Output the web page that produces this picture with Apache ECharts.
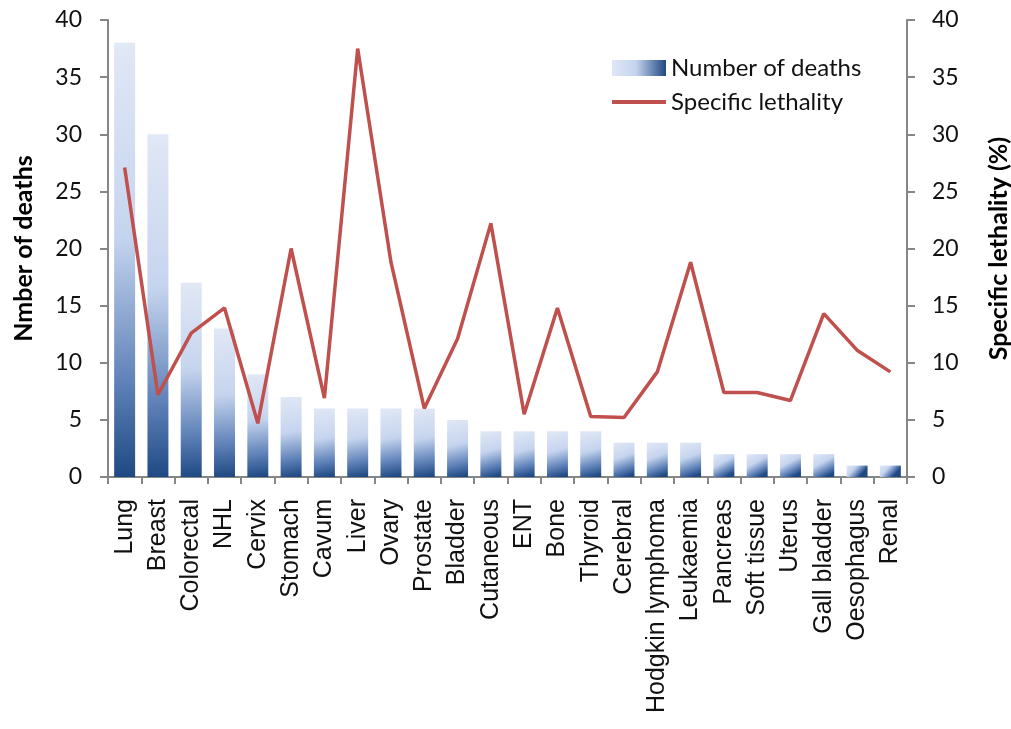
<!DOCTYPE html>
<html><head><meta charset="utf-8">
<script src="https://cdn.jsdelivr.net/npm/echarts@6/dist/echarts.min.js"></script>
<style>html,body{margin:0;padding:0;background:#fff}#c{width:1011px;height:729px}</style>
</head><body><div id="c"></div>
<script>
const categories = ['Lung','Breast','Colorectal','NHL','Cervix','Stomach','Cavum','Liver','Ovary','Prostate','Bladder','Cutaneous','ENT','Bone','Thyroid','Cerebral','Hodgkin lymphoma','Leukaemia','Pancreas','Soft tissue','Uterus','Gall bladder','Oesophagus','Renal'];
const deaths = [38,30,17,13,9,7,6,6,6,6,5,4,4,4,4,3,3,3,2,2,2,2,1,1];
const lethality = [27.1,7.2,12.6,14.8,4.7,20.0,6.9,37.5,18.8,6.0,12.1,22.2,5.5,14.8,5.3,5.2,9.2,18.8,7.4,7.4,6.7,14.3,11.1,9.2];
const yTicks = {min:0, max:40, interval:5};

const chart = echarts.init(document.getElementById('c'));
const barGrad = new echarts.graphic.LinearGradient(0,0,0.6,1,[
  {offset:0,color:'#e1e8f6'},{offset:0.45,color:'#c5d4ee'},{offset:0.78,color:'#5f82b8'},{offset:1,color:'#1f4983'}]);
const fontMain = 'Lato, "Open Sans", sans-serif';
const tickFont = {fontFamily:fontMain, fontSize:23, color:'#111'};
chart.setOption({
  animation:false,
  grid:{left:108,right:104,top:20,bottom:252,outerBoundsMode:'none',containLabel:false},
  legend:{
    left:605, top:51, orient:'vertical', itemGap:10, itemWidth:54, itemHeight:16,
    textStyle:{fontFamily:fontMain, fontSize:24, lineHeight:24, color:'#111'},
    data:[{name:'Number of deaths', icon:'rect', itemStyle:{color:new echarts.graphic.LinearGradient(0,0,1,0,[{offset:0,color:'#dfe7f5'},{offset:0.45,color:'#c3d2ed'},{offset:1,color:'#1f4983'}])}},
          {name:'Specific lethality', itemStyle:{opacity:0}, lineStyle:{width:4, color:'#c0504d'}}]
  },
  xAxis:{type:'category', data:categories, boundaryGap:true,
    axisLine:{lineStyle:{color:'#868686',width:2}},
    axisTick:{show:true, length:7, lineStyle:{color:'#868686',width:2}, alignWithLabel:false},
    axisLabel:{rotate:90, interval:0, margin:22, fontFamily:'"Liberation Sans", Arial, sans-serif', fontSize:25, color:'#111'}
  },
  yAxis:[
    {type:'value', min:yTicks.min, max:yTicks.max, interval:yTicks.interval, position:'left',
     name:'Nmber of deaths', nameLocation:'middle', nameGap:72, nameRotate:90,
     nameTextStyle:{fontFamily:fontMain, fontSize:25, fontWeight:'bold', color:'#000'},
     axisLine:{show:true, lineStyle:{color:'#868686',width:2}},
     axisTick:{show:true, length:8, lineStyle:{color:'#868686',width:2}},
     splitLine:{show:false}, axisLabel:Object.assign({margin:26}, tickFont)},
    {type:'value', min:yTicks.min, max:yTicks.max, interval:yTicks.interval, position:'right',
     name:'Specific lethality (%)', nameLocation:'middle', nameGap:79, nameRotate:90,
     nameTextStyle:{fontFamily:fontMain, fontSize:25, fontWeight:'bold', color:'#000'},
     axisLine:{show:true, lineStyle:{color:'#868686',width:2}},
     axisTick:{show:true, length:8, lineStyle:{color:'#868686',width:2}},
     splitLine:{show:false}, axisLabel:Object.assign({margin:25}, tickFont)}
  ],
  series:[
    {name:'Number of deaths', type:'bar', data:deaths, yAxisIndex:0, barCategoryGap:'37%', itemStyle:{color:barGrad}},
    {name:'Specific lethality', type:'line', data:lethality, yAxisIndex:1, symbol:'none', lineStyle:{color:'#c0504d', width:3.5}, itemStyle:{color:'#c0504d'}}
  ]
});
</script></body></html>
